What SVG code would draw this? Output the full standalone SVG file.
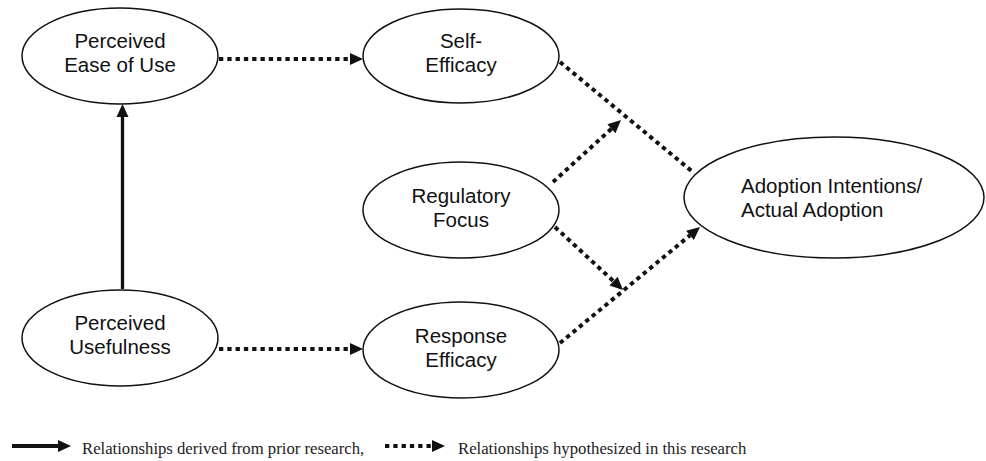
<svg xmlns="http://www.w3.org/2000/svg" width="986" height="461" viewBox="0 0 986 461">
<style>
.node ellipse{fill:#fff;stroke:#111;stroke-width:1.5}
.node text{font-family:"Liberation Sans",Arial,sans-serif;font-size:20.5px;fill:#111;text-anchor:middle}
.dot{fill:none;stroke:#111;stroke-width:4;stroke-dasharray:4.3 4}
.solid{fill:none;stroke:#111;stroke-width:3.3}
.legend{font-family:"Liberation Serif","Times New Roman",serif;font-size:16.7px;fill:#222}
</style>
<defs>
<marker id="ah" markerUnits="userSpaceOnUse" markerWidth="14" markerHeight="14" refX="0" refY="6" orient="auto" overflow="visible">
<path d="M0,0 L13,6 L0,12 z" fill="#111"/>
</marker>
</defs>
<rect width="986" height="461" fill="#fff"/>
<g id="connectors">
<path class="solid" d="M122.5,289 L122.5,117" marker-end="url(#ah)"/>
<path class="dot" d="M219,59 L350,59" marker-end="url(#ah)"/>
<path class="dot" d="M219,349 L350,349" marker-end="url(#ah)"/>
<path class="dot" d="M560,62 L694,173"/>
<path class="dot" d="M553,182 L611.4,128.8" marker-end="url(#ah)"/>
<path class="dot" d="M555,227 L613.5,281.2" marker-end="url(#ah)"/>
<path class="dot" d="M560,343 L690,235.3" marker-end="url(#ah)"/>
</g>
<g id="peou" class="node">
<ellipse cx="120" cy="56" rx="98" ry="48"/>
<text x="120" y="48">Perceived</text>
<text x="120" y="72">Ease of Use</text>
</g>
<g id="se" class="node">
<ellipse cx="461" cy="56" rx="98" ry="47"/>
<text x="461" y="48">Self-</text>
<text x="461" y="72">Efficacy</text>
</g>
<g id="rf" class="node">
<ellipse cx="461" cy="210" rx="98" ry="48"/>
<text x="461" y="203">Regulatory</text>
<text x="461" y="227">Focus</text>
</g>
<g id="pu" class="node">
<ellipse cx="120" cy="338" rx="98" ry="48"/>
<text x="120" y="330">Perceived</text>
<text x="120" y="354">Usefulness</text>
</g>
<g id="re" class="node">
<ellipse cx="461" cy="350" rx="98" ry="48"/>
<text x="461" y="343">Response</text>
<text x="461" y="367">Efficacy</text>
</g>
<g id="adoption" class="node">
<ellipse cx="834" cy="197.5" rx="150" ry="60.5"/>
<text x="741" y="193" style="text-anchor:start">Adoption Intentions/</text>
<text x="741" y="217" style="text-anchor:start">Actual Adoption</text>
</g>
<g id="legend">
<path d="M12,446 L58,446" fill="none" stroke="#111" stroke-width="4" marker-end="url(#ah)"/>
<text class="legend" x="82" y="454">Relationships derived from prior research,</text>
<path class="dot" d="M385,446 L432,446" marker-end="url(#ah)"/>
<text class="legend" x="458" y="454">Relationships hypothesized in this research</text>
</g>
</svg>
